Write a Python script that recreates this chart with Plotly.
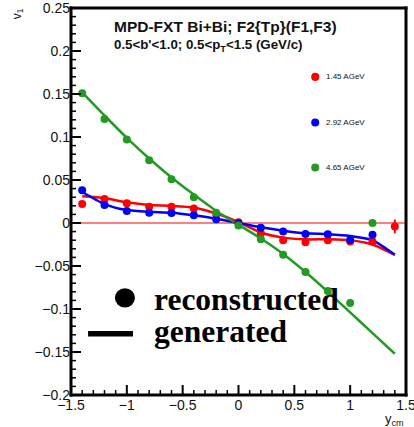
import numpy as np
import plotly.graph_objects as go

# ---- data ----
x_pts = [-1.4, -1.2, -1.0, -0.8, -0.6, -0.4, -0.2, 0.0, 0.2, 0.4, 0.6, 0.8, 1.0, 1.2]
red_pts = [0.022, 0.028, 0.023, 0.019, 0.019, 0.017, 0.0105, 0.001, -0.012, -0.020, -0.0225, -0.020, -0.0215, -0.0215]
blue_pts = [0.038, 0.021, 0.014, 0.012, 0.0115, 0.009, 0.0043, -0.0004, -0.0054, -0.010, -0.0128, -0.013, -0.0198, -0.0136]
green_pts = [0.151, 0.121, 0.097, 0.073, 0.051, 0.030, 0.012, -0.003, -0.019, -0.037, -0.057, -0.079, -0.093, 0.0]
red_extra_x = [1.4]
red_extra_y = [-0.004]
red_extra_err = [0.008]

x_line = [-1.4, -1.2, -1.0, -0.8, -0.6, -0.4, -0.2, 0.0, 0.2, 0.4, 0.6, 0.8, 1.0, 1.2, 1.4]
red_line = [0.031, 0.029, 0.024, 0.021, 0.020, 0.018, 0.011, 0.001, -0.011, -0.017, -0.019, -0.019, -0.020, -0.025, -0.037]
blue_line = [0.036, 0.022, 0.015, 0.013, 0.012, 0.009, 0.005, 0.0, -0.005, -0.009, -0.012, -0.013, -0.015, -0.020, -0.037]
green_line = [0.152, 0.125, 0.099, 0.075, 0.053, 0.033, 0.014, -0.002, -0.018, -0.036, -0.057, -0.080, -0.104, -0.128, -0.152]

series_names = ["1.45 AGeV", "2.92 AGeV", "4.65 AGeV"]
RED, BLUE, GREEN = "#ff0000", "#0000ff", "#239b23"
X_RANGE = [-1.5, 1.5]
Y_RANGE = [-0.2, 0.25]

W, H = 414, 427
ML, MR, MT, MB = 71, 8, 8, 32
PW, PH = W - ML - MR, H - MT - MB
XPX = (X_RANGE[1] - X_RANGE[0]) / PW
YPX = (Y_RANGE[1] - Y_RANGE[0]) / PH

fig = go.Figure()

fig.add_trace(go.Scatter(x=X_RANGE, y=[0, 0], mode="lines",
                         line=dict(color=RED, width=1), showlegend=False, hoverinfo="skip"))

for yl, c in [(red_line, RED), (blue_line, BLUE), (green_line, GREEN)]:
    fig.add_trace(go.Scatter(x=x_line, y=yl, mode="lines",
                             line=dict(color=c, width=2.5, shape="spline", smoothing=0.6),
                             showlegend=False))

for yp, c in [(red_pts, RED), (blue_pts, BLUE), (green_pts, GREEN)]:
    fig.add_trace(go.Scatter(x=x_pts, y=yp, mode="markers",
                             marker=dict(color=c, size=8), showlegend=False))

fig.add_trace(go.Scatter(x=red_extra_x, y=red_extra_y, mode="markers",
                         marker=dict(color=RED, size=8),
                         error_y=dict(type="data", array=red_extra_err, color=RED, thickness=2, width=0),
                         showlegend=False))

tickfont = dict(family="Liberation Sans, Arial", size=14, color="#111")
fig.update_layout(
    xaxis=dict(range=X_RANGE, tickmode="linear", tick0=-1.5, dtick=0.5, ticks="",
               showline=False, showgrid=False, zeroline=False, automargin=False,
               ticklabeloverflow="allow", tickfont=tickfont),
    yaxis=dict(range=Y_RANGE, tickmode="linear", tick0=-0.2, dtick=0.05, ticks="",
               showline=False, showgrid=False, zeroline=False, automargin=False,
               ticklabeloverflow="allow", tickfont=tickfont),
)

# ---- frame and inside ticks as filled rectangles ----
shapes = []
FR = "black"
fx = 1.5 / PW
fy = 1.5 / PH
for x0, x1, y0, y1 in [(-fx, fx, -fy, 1 + fy), (1 - fx, 1 + fx, -fy, 1 + fy),
                       (-fx, 1 + fx, -fy, fy), (-fx, 1 + fx, 1 - fy, 1 + fy)]:
    shapes.append(dict(type="rect", xref="paper", yref="paper", x0=x0, x1=x1, y0=y0, y1=y1,
                       fillcolor=FR, line=dict(width=0)))

x_major = np.round(np.arange(-1.5, 1.5001, 0.5), 3)
x_minor = np.round(np.arange(-1.5, 1.5001, 0.1), 3)
y_major = np.round(np.arange(-0.2, 0.2501, 0.05), 4)
y_minor = np.round(np.arange(-0.2, 0.2501, 0.01), 4)
for v in x_minor:
    maj = np.any(np.isclose(v, x_major))
    hw = (1.0 if maj else 0.75) * XPX
    ln = (10 if maj else 5) / PH
    shapes.append(dict(type="rect", xref="x", yref="paper", x0=v - hw, x1=v + hw, y0=0, y1=ln,
                       fillcolor=FR, line=dict(width=0)))
for v in y_minor:
    maj = np.any(np.isclose(v, y_major))
    hw = (1.0 if maj else 0.75) * YPX
    ln = (10 if maj else 5) / PW
    shapes.append(dict(type="rect", xref="paper", yref="y", x0=0, x1=ln, y0=v - hw, y1=v + hw,
                       fillcolor=FR, line=dict(width=0)))

ann = []
ann.append(dict(x=0.123, y=0.952, xref="paper", yref="paper", xanchor="left", yanchor="middle",
                text="<b>MPD-FXT Bi+Bi; F2{Tp}(F1,F3)</b>", showarrow=False,
                font=dict(family="Liberation Sans, Arial", size=15.5, color="#111")))
ann.append(dict(x=0.123, y=0.903, xref="paper", yref="paper", xanchor="left", yanchor="middle",
                text="<b>0.5<b'<1.0; 0.5<p<sub>T</sub><1.5 (GeV/c)</b>", showarrow=False,
                font=dict(family="Liberation Sans, Arial", size=13.3, color="#111")))

leg_y = [0.822, 0.704, 0.588]
for name, c, yy in zip(series_names, [RED, BLUE, GREEN], leg_y):
    shapes.append(dict(type="circle", xref="paper", yref="paper",
                       x0=0.717, x1=0.741, y0=yy - 0.0105, y1=yy + 0.0105,
                       fillcolor=c, line=dict(color=c, width=0)))
    ann.append(dict(x=0.755, y=yy, xref="paper", yref="paper", xanchor="left", yanchor="middle",
                    text=name, showarrow=False,
                    font=dict(family="Liberation Sans, Arial", size=8, color="#111")))

shapes.append(dict(type="circle", xref="paper", yref="paper",
                   x0=0.131, x1=0.191, y0=0.226, y1=0.276, fillcolor="black", line=dict(width=0)))
shapes.append(dict(type="line", xref="paper", yref="paper",
                   x0=0.051, x1=0.185, y0=0.158, y1=0.158, line=dict(color="black", width=5.5)))
ann.append(dict(x=0.243, y=0.246, xref="paper", yref="paper", xanchor="left", yanchor="middle",
                text="<b>reconstructed</b>", showarrow=False,
                font=dict(family="Liberation Serif, Times New Roman", size=31.5, color="black")))
ann.append(dict(x=0.243, y=0.163, xref="paper", yref="paper", xanchor="left", yanchor="middle",
                text="<b>generated</b>", showarrow=False,
                font=dict(family="Liberation Serif, Times New Roman", size=31.5, color="black")))

ann.append(dict(x=-0.16, y=0.985, xref="paper", yref="paper", xanchor="center", yanchor="middle",
                text="v<sub>1</sub>", textangle=-90, showarrow=False,
                font=dict(family="Liberation Sans, Arial", size=12, color="#111")))
ann.append(dict(x=0.965, y=-0.035, xref="paper", yref="paper", xanchor="center", yanchor="top",
                text="y<sub>cm</sub>", showarrow=False,
                font=dict(family="Liberation Sans, Arial", size=13, color="#111")))

fig.update_layout(width=W, height=H, margin=dict(l=ML, r=MR, t=MT, b=MB),
                  paper_bgcolor="white", plot_bgcolor="white",
                  annotations=ann, shapes=shapes, showlegend=False)

fig.write_html("out.html")
